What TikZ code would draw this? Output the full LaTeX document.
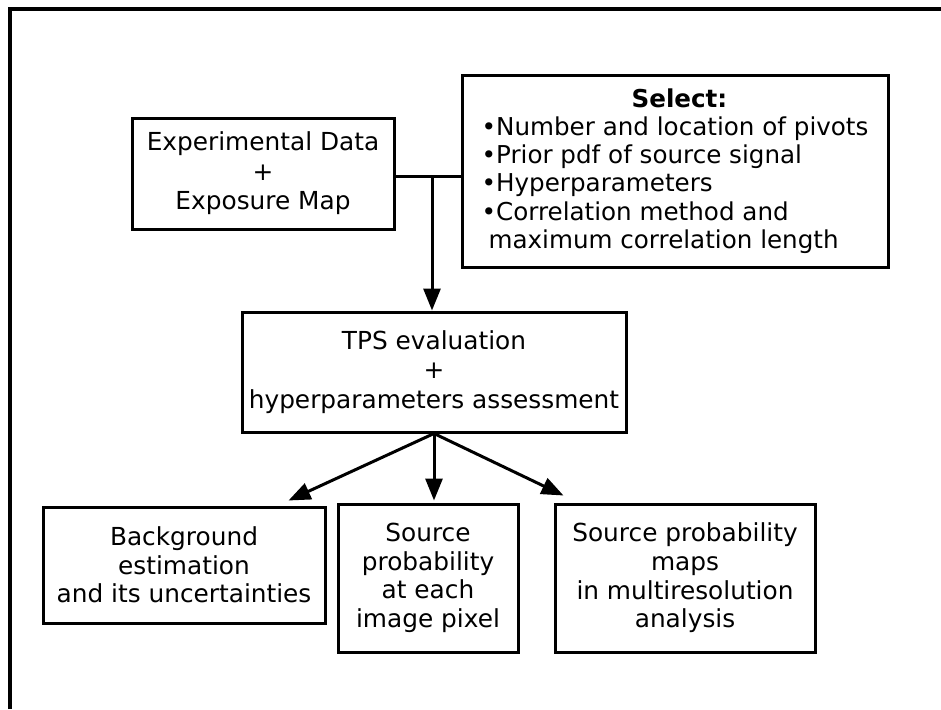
\documentclass[tikz,border=0pt]{standalone}
\usepackage{fontspec}
\setmainfont{DejaVu Sans}
\usetikzlibrary{arrows.meta}

\begin{document}
\begin{tikzpicture}[x=1pt, y=-1pt, line width=3pt, >={Triangle[width=17pt,length=22pt]},
  block/.style={draw, rectangle, align=center, inner sep=2pt, font=\fontsize{24.8}{29.5}\selectfont}]
\useasboundingbox (0,0) rectangle (941,709);
\draw[line width=4pt] (10,709) -- (10,9) -- (941,9);
\node[block] (data) at (263,173.5) [minimum width=262pt, minimum height=111pt] {Experimental Data\\+\\Exposure Map};
\node[block] (sel) at (675,171) [minimum width=426pt, minimum height=192pt, align=left, font=\fontsize{24.6}{28.3}\selectfont]
  {\hspace*{150pt}\textbf{Select:}\\
   •Number and location of pivots\\
   •Prior pdf of source signal\\
   •Hyperparameters\\
   •Correlation method and\\
   \hspace*{7pt}maximum correlation length};
\node[block] (tps) at (434,372) [minimum width=384pt, minimum height=120pt] {TPS evaluation\\+\\hyperparameters assessment};
\node[block] (bkg) at (184,565) [minimum width=282pt, minimum height=116pt, font=\fontsize{24.8}{28.7}\selectfont] {Background\\estimation\\and its uncertainties};
\node[block] (pix) at (428,578) [minimum width=180pt, minimum height=148pt, font=\fontsize{24.8}{28.7}\selectfont] {Source\\probability\\at each\\image pixel};
\node[block] (maps) at (685,578) [minimum width=260pt, minimum height=148pt, font=\fontsize{24.8}{28.7}\selectfont] {Source probability\\maps\\in multiresolution\\analysis};
\coordinate (join) at (432,176);
\draw (data.east |- join) -- (sel.west |- join);
\draw[->] (join) -- (join |- tps.north);
\draw[->] (tps.south) -- ([xshift=-38pt,yshift=5pt]bkg.north east);
\draw[->] (tps.south) -- ([yshift=2pt]tps.south |- pix.north);
\draw[->] (tps.south) -- ([xshift=10pt,yshift=7pt]maps.north west);
\end{tikzpicture}
\end{document}
